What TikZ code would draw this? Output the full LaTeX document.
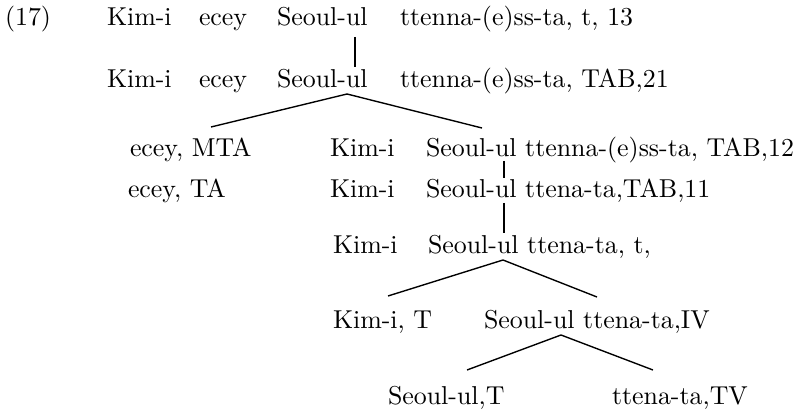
\documentclass[tikz,border=0pt]{standalone}
\begin{document}
\begin{tikzpicture}[x=0.4pt,y=-0.4pt,
  w/.style={anchor=base west,inner sep=0pt,outer sep=0pt,font=\fontsize{10.35}{12}\selectfont},
  br/.style={line width=0.55pt}]
\useasboundingbox (0,0) rectangle (801,419);
% row 1
\node[w] (n17) at (5,26) {(17)};
\node[w] (a1) at (107,26) {Kim-i};
\node[w] (b1) at (199,26) {ecey};
\node[w] (c1) at (277,26) {Seoul-ul};
\node[w] (d1) at (400,26) {ttenna-(e)ss-ta, t, 13};
% row 2
\node[w] (a2) at (107,88) {Kim-i};
\node[w] (b2) at (199,88) {ecey};
\node[w] (c2) at (277,88) {Seoul-ul};
\node[w] (d2) at (400,88) {ttenna-(e)ss-ta, TAB,21};
% row 3
\node[w] (e3) at (130,157) {ecey, MTA};
\node[w] (a3) at (330,157) {Kim-i};
\node[w] (c3) at (426,157) {Seoul-ul ttenna-(e)ss-ta, TAB,12};
% row 4
\node[w] (e4) at (128,198) {ecey, TA};
\node[w] (a4) at (330,198) {Kim-i};
\node[w] (c4) at (426,198) {Seoul-ul ttena-ta,TAB,11};
% row 5
\node[w] (a5) at (333,253) {Kim-i};
\node[w] (c5) at (428,253) {Seoul-ul ttena-ta, t,};
% row 6
\node[w] (a6) at (333,328) {Kim-i, T};
\node[w] (c6) at (484,328) {Seoul-ul ttena-ta,IV};
% row 7
\node[w] (s7) at (388,404) {Seoul-ul,T};
\node[w] (t7) at (612,404) {ttena-ta,TV};
% connector end points
\coordinate (p1t) at (355,37);  \coordinate (p1b) at (355,67);
\coordinate (p2) at (347,94);   \coordinate (p2l) at (211,127); \coordinate (p2r) at (482,128);
\coordinate (p3t) at (504,161); \coordinate (p3b) at (504,178);
\coordinate (p4t) at (504,203); \coordinate (p4b) at (504,233);
\coordinate (p5) at (503,260);  \coordinate (p5l) at (388,296); \coordinate (p5r) at (597,297);
\coordinate (p6) at (561,335);  \coordinate (p6l) at (467,370); \coordinate (p6r) at (653,370);
\draw[br] (p1t) -- (p1b);
\draw[br] (p2l) -- (p2) -- (p2r);
\draw[br] (p3t) -- (p3b);
\draw[br] (p4t) -- (p4b);
\draw[br] (p5l) -- (p5) -- (p5r);
\draw[br] (p6l) -- (p6) -- (p6r);
\end{tikzpicture}
\end{document}
